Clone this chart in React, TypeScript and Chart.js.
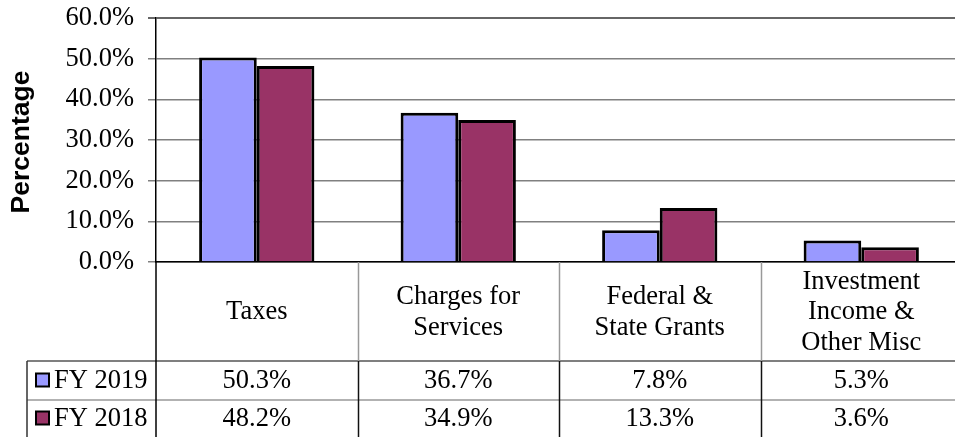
import React, { useEffect, useRef } from "react";
import { Chart, registerables } from "chart.js";

Chart.register(...registerables);

const categories: string[][] = [
  ["Taxes"],
  ["Charges for", "Services"],
  ["Federal &", "State Grants"],
  ["Investment", "Income &", "Other Misc"],
];
const seriesNames = ["FY 2019", "FY 2018"];
const fy2019 = [50.3, 36.7, 7.8, 5.3];
const fy2018 = [48.2, 34.9, 13.3, 3.6];
const seriesColors = ["#9999FF", "#993366"];
const yTickMax = 60;
const yTickStep = 10;
const yTitle = "Percentage";

const SERIF = "'Liberation Serif', 'Times New Roman', serif";
const SANS = "'Liberation Sans', Arial, sans-serif";
const FS = 26.5;

const tablePlugin = {
  id: "dataTable",
  afterDraw(chart: any) {
    const ctx = chart.ctx as CanvasRenderingContext2D;
    const area = chart.chartArea;
    const n = categories.length;
    const catW = (area.right - area.left) / n;
    const top = area.bottom;
    const headerBottom = top + 99;
    const row1Bottom = headerBottom + 39;
    const bottom = chart.height;
    const legendLeft = 27;
    ctx.save();

    ctx.lineWidth = 1.5;
    ctx.strokeStyle = "#555";
    ctx.beginPath();
    ctx.moveTo(legendLeft, headerBottom);
    ctx.lineTo(chart.width, headerBottom);
    ctx.stroke();
    ctx.strokeStyle = "#999";
    ctx.beginPath();
    ctx.moveTo(legendLeft, row1Bottom);
    ctx.lineTo(chart.width, row1Bottom);
    ctx.stroke();

    ctx.strokeStyle = "#333";
    ctx.beginPath();
    ctx.moveTo(legendLeft, headerBottom);
    ctx.lineTo(legendLeft, bottom);
    ctx.stroke();

    ctx.strokeStyle = "#000";
    ctx.beginPath();
    ctx.moveTo(area.left, top);
    ctx.lineTo(area.left, bottom);
    ctx.stroke();

    for (let i = 1; i < n; i++) {
      const x = Math.round(area.left + i * catW) + 0.5;
      ctx.strokeStyle = "#999";
      ctx.beginPath();
      ctx.moveTo(x, top);
      ctx.lineTo(x, headerBottom);
      ctx.stroke();
      ctx.strokeStyle = "#111";
      ctx.beginPath();
      ctx.moveTo(x, headerBottom);
      ctx.lineTo(x, bottom);
      ctx.stroke();
    }

    ctx.fillStyle = "#000";
    ctx.font = `${FS}px ${SERIF}`;
    ctx.textAlign = "center";
    ctx.textBaseline = "middle";
    const lh = 30.5;
    const headerMid = (top + headerBottom) / 2 + 1;
    categories.forEach((lines, i) => {
      const cx = chart.scales.x.getPixelForValue(i);
      const start = headerMid - ((lines.length - 1) * lh) / 2;
      lines.forEach((l, j) => ctx.fillText(l, cx, start + j * lh));
    });

    const rows = [fy2019, fy2018];
    const rowMids = [(headerBottom + row1Bottom) / 2 + 1, (row1Bottom + bottom) / 2 + 1];
    rows.forEach((vals, r) => {
      vals.forEach((v, i) => {
        const cx = chart.scales.x.getPixelForValue(i);
        ctx.fillText(v.toFixed(1) + "%", cx, rowMids[r]);
      });
      const ym = rowMids[r] - 1;
      ctx.fillStyle = seriesColors[r];
      ctx.fillRect(36, ym - 7, 13, 13);
      ctx.strokeStyle = "#000";
      ctx.lineWidth = 2;
      ctx.strokeRect(36, ym - 7, 13, 13);
      ctx.fillStyle = "#000";
      ctx.textAlign = "left";
      ctx.fillText(seriesNames[r], 54, rowMids[r]);
      ctx.textAlign = "center";
    });

    ctx.font = `bold ${FS}px ${SANS}`;
    ctx.translate(22, 142);
    ctx.rotate(-Math.PI / 2);
    ctx.fillText(yTitle, 0, 0);
    ctx.restore();
  },
};

export default function App() {
  const ref = useRef<HTMLCanvasElement | null>(null);
  useEffect(() => {
    document.body.style.margin = "0";
    const canvas = ref.current!;
    const chart = new Chart(canvas, {
      type: "bar",
      data: {
        labels: categories.map((c) => c.join(" ")),
        datasets: [
          {
            label: seriesNames[0],
            data: fy2019,
            backgroundColor: seriesColors[0],
            borderColor: "#000",
            borderWidth: 3,
          },
          {
            label: seriesNames[1],
            data: fy2018,
            backgroundColor: seriesColors[1],
            borderColor: "#000",
            borderWidth: 3,
          },
        ],
      },
      options: {
        responsive: false,
        animation: false,
        devicePixelRatio: 1,
        layout: { padding: { top: 18, bottom: 175, left: 0, right: 0 } },
        plugins: { legend: { display: false }, tooltip: { enabled: false } },
        datasets: { bar: { categoryPercentage: 0.572, barPercentage: 1 } },
        scales: {
          x: {
            ticks: { display: false },
            grid: { display: false, drawTicks: false },
            border: { display: true, color: "#000", width: 1.5 },
            afterFit: (s: any) => {
              s.height = 0;
              s.paddingLeft = 0;
              s.paddingRight = 0;
            },
          },
          y: {
            min: 0,
            max: yTickMax,
            ticks: {
              stepSize: yTickStep,
              padding: 14,
              color: "#000",
              font: { family: SERIF, size: FS },
              callback: (v: any) => Number(v).toFixed(1) + "%",
            },
            grid: {
              color: (c: any) => (c.tick && c.tick.value === yTickMax ? "#666" : "#808080"),
              lineWidth: (c: any) => (c.tick && c.tick.value === yTickMax ? 2 : 1.5),
              tickLength: 8,
            },
            border: { display: true, color: "#000", width: 1.5 },
            afterFit: (s: any) => {
              s.width = 156;
              s.paddingTop = 0;
              s.paddingBottom = 0;
            },
          },
        },
      },
      plugins: [tablePlugin],
    });
    return () => chart.destroy();
  }, []);
  return (
    <div style={{ position: "fixed", left: 0, top: 0, width: 955, height: 437, overflow: "hidden", background: "#fff" }}>
      <canvas ref={ref} width={962} height={437} style={{ display: "block", width: 962, height: 437 }} />
    </div>
  );
}
